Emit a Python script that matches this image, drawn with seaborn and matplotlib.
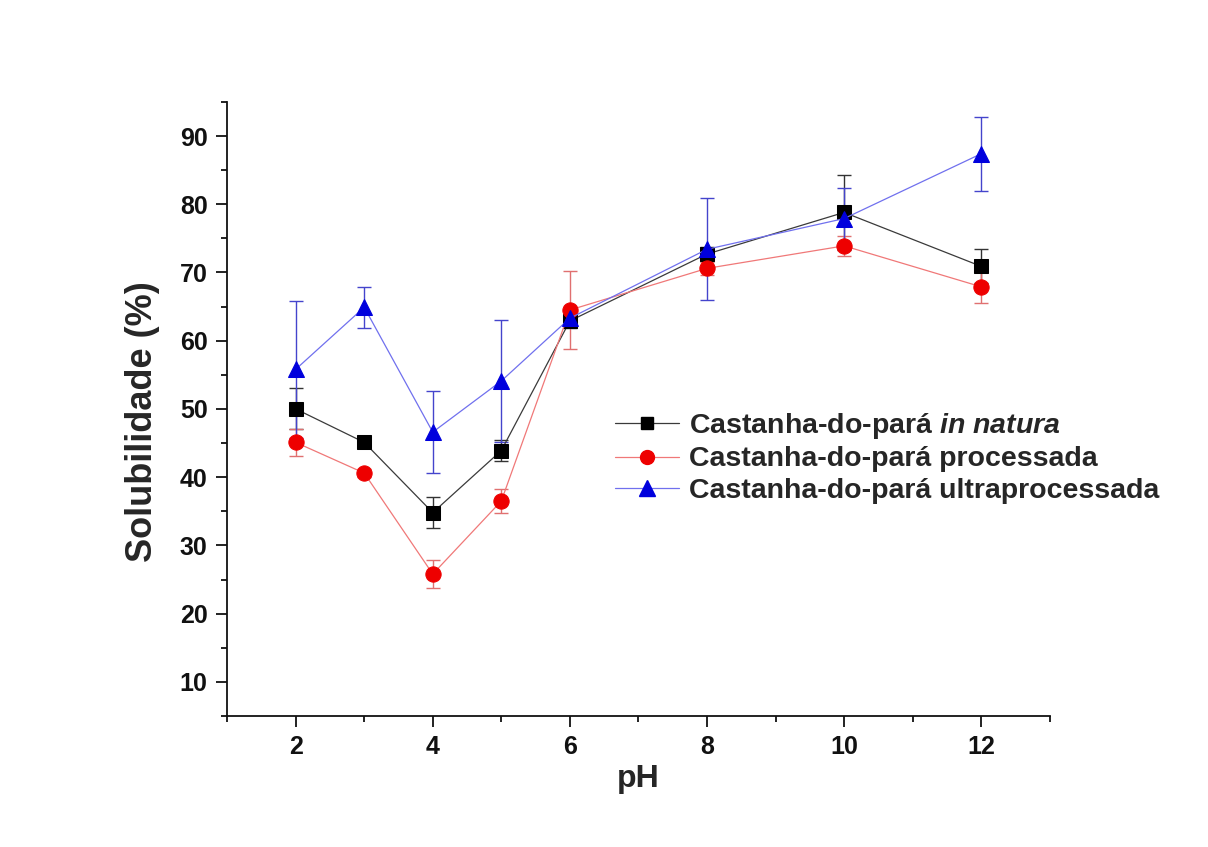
import numpy as np
import pandas as pd
import matplotlib
matplotlib.use("Agg")
import matplotlib.pyplot as plt
from matplotlib.ticker import MultipleLocator
from matplotlib.lines import Line2D
import seaborn as sns

# ---- data ----
ph = [2, 3, 4, 5, 6, 8, 10, 12]
in_natura = [50.0, 45.1, 34.8, 43.9, 62.9, 72.7, 78.8, 70.9]
in_natura_err = [3.0, 0.6, 2.3, 1.5, 1.0, 1.0, 5.5, 2.5]
processada = [45.1, 40.6, 25.8, 36.5, 64.5, 70.6, 73.9, 67.9]
processada_err = [2.0, 0.6, 2.0, 1.7, 5.7, 1.0, 1.5, 2.4]
ultra = [55.8, 64.9, 46.6, 54.1, 63.3, 73.4, 77.9, 87.4]
ultra_err = [10.0, 3.0, 6.0, 9.0, 1.0, 7.5, 4.5, 5.4]

names = ["Castanha-do-pará in natura",
         "Castanha-do-pará processada",
         "Castanha-do-pará ultraprocessada"]
legend_labels = ["Castanha-do-pará $\\mathit{in}$ $\\mathit{natura}$",
                 "Castanha-do-pará processada",
                 "Castanha-do-pará ultraprocessada"]
xticks = [2, 4, 6, 8, 10, 12]
yticks = [10, 20, 30, 40, 50, 60, 70, 80, 90]

sns.set_theme(style="white")
plt.rcParams['font.family'] = ['Liberation Sans', 'DejaVu Sans']
plt.rcParams['font.weight'] = 'bold'
plt.rcParams['mathtext.fontset'] = 'custom'
plt.rcParams['mathtext.it'] = 'Liberation Sans:italic:bold'
plt.rcParams['mathtext.rm'] = 'Liberation Sans:bold'
plt.rcParams['mathtext.bf'] = 'Liberation Sans:bold'

df = pd.DataFrame({
    "pH": ph * 3,
    "sol": in_natura + processada + ultra,
    "err": in_natura_err + processada_err + ultra_err,
    "amostra": [names[0]] * len(ph) + [names[1]] * len(ph) + [names[2]] * len(ph),
})

line_colors = {names[0]: "#3a3a3a", names[1]: "#f07878", names[2]: "#7070ee"}
marker_colors = {names[0]: "#000000", names[1]: "#ee0000", names[2]: "#0000dd"}
err_colors = {names[0]: "#333333", names[1]: "#e07070", names[2]: "#4444cc"}
markers = {names[0]: "s", names[1]: "o", names[2]: "^"}
msizes = {names[0]: 10, names[1]: 11, names[2]: 12}

fig = plt.figure(figsize=(12.08, 8.47), dpi=100)
ax = fig.add_axes([0.188, 0.1547, 0.681, 0.725])

sns.lineplot(data=df, x="pH", y="sol", hue="amostra", style="amostra",
             hue_order=names, style_order=names,
             palette=line_colors, markers=markers, dashes=False,
             linewidth=0.9, markersize=11, ax=ax, legend=False, zorder=3)

data_lines = list(ax.lines)
for line, n in zip(data_lines, names):
    line.set_markerfacecolor(marker_colors[n])
    line.set_markeredgecolor(marker_colors[n])
    line.set_markersize(msizes[n])

for n in names:
    sub = df[df["amostra"] == n]
    ax.errorbar(sub["pH"], sub["sol"], yerr=sub["err"], fmt="none",
                ecolor=err_colors[n], elinewidth=1.0, capsize=5, capthick=1.0, zorder=2)

# legend
handles = [Line2D([], [], color=line_colors[n], lw=0.9, marker=markers[n],
                  markersize=msizes[n] - 1, markerfacecolor=marker_colors[n],
                  markeredgecolor=marker_colors[n]) for n in names]
leg = ax.legend(handles, legend_labels, loc="upper left",
                bbox_to_anchor=(0.472, 0.497), frameon=False,
                prop={"size": 20.5, "weight": "bold"}, handlelength=2.25,
                handletextpad=0.35, labelspacing=0.2, borderaxespad=0,
                borderpad=0)

ax.set_xlim(1, 13)
ax.set_ylim(5, 95)
ax.set_xticks(xticks)
ax.set_yticks(yticks)
ax.xaxis.set_minor_locator(MultipleLocator(1))
ax.yaxis.set_minor_locator(MultipleLocator(5))
ax.tick_params(which="major", direction="out", length=8, width=1.3,
               labelsize=18, bottom=True, left=True, pad=6, colors="#111111")
ax.tick_params(which="minor", direction="out", length=4.5, width=1.3,
               bottom=True, left=True, colors="#111111")
for lab in ax.get_xticklabels() + ax.get_yticklabels():
    lab.set_fontweight("bold")

ax.set_xlabel("pH", fontsize=23, fontweight="bold", labelpad=3)
ax.set_ylabel("Solubilidade (%)", fontsize=26, fontweight="bold")
ax.yaxis.set_label_coords(-0.082, 0.48)

sns.despine(ax=ax)
for s in ["left", "bottom"]:
    ax.spines[s].set_linewidth(1.3)
    ax.spines[s].set_color("#111111")

fig.savefig("out.png", dpi=100, facecolor="white")
